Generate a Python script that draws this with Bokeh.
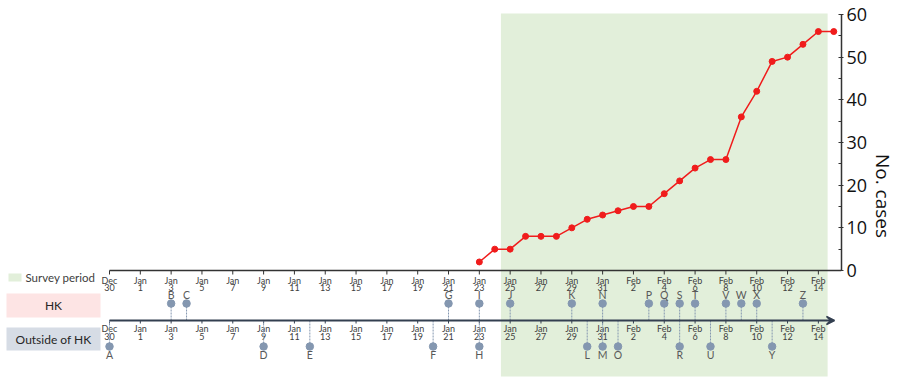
import datetime as dt
from bokeh.plotting import figure
from bokeh.models import Range1d, FixedTicker, Arrow, VeeHead, ColumnDataSource
from bokeh.core.properties import value
from bokeh.embed import file_html
from bokeh.resources import INLINE

# ---------------- data ----------------
case_dates = ["2020-01-23", "2020-01-24", "2020-01-25", "2020-01-26", "2020-01-27", "2020-01-28",
              "2020-01-29", "2020-01-30", "2020-01-31", "2020-02-01", "2020-02-02", "2020-02-03",
              "2020-02-04", "2020-02-05", "2020-02-06", "2020-02-07", "2020-02-08", "2020-02-09",
              "2020-02-10", "2020-02-11", "2020-02-12", "2020-02-13", "2020-02-14", "2020-02-15"]
case_counts = [2, 5, 5, 8, 8, 8, 10, 12, 13, 14, 15, 15, 18, 21, 24, 26, 26, 36, 42, 49, 50, 53, 56, 56]

hk_labels = ["B", "C", "G", "I", "J", "K", "N", "P", "Q", "S", "T", "V", "W", "X", "Z"]
hk_dates = ["2020-01-03", "2020-01-04", "2020-01-21", "2020-01-23", "2020-01-25", "2020-01-29",
            "2020-01-31", "2020-02-03", "2020-02-04", "2020-02-05", "2020-02-06", "2020-02-08",
            "2020-02-09", "2020-02-10", "2020-02-13"]

out_labels = ["A", "D", "E", "F", "H", "L", "M", "O", "R", "U", "Y"]
out_dates = ["2019-12-30", "2020-01-09", "2020-01-12", "2020-01-20", "2020-01-23", "2020-01-30",
             "2020-01-31", "2020-02-01", "2020-02-05", "2020-02-07", "2020-02-11"]

tick_months = ["Dec"] + ["Jan"] * 16 + ["Feb"] * 7
tick_days = ["30", "1", "3", "5", "7", "9", "11", "13", "15", "17", "19", "21", "23", "25", "27",
             "29", "31", "2", "4", "6", "8", "10", "12", "14"]
tick_dates = ["2019-12-30", "2020-01-01", "2020-01-03", "2020-01-05", "2020-01-07", "2020-01-09",
              "2020-01-11", "2020-01-13", "2020-01-15", "2020-01-17", "2020-01-19", "2020-01-21",
              "2020-01-23", "2020-01-25", "2020-01-27", "2020-01-29", "2020-01-31", "2020-02-02",
              "2020-02-04", "2020-02-06", "2020-02-08", "2020-02-10", "2020-02-12", "2020-02-14"]

survey_start = "2020-01-24"
survey_end = "2020-02-14"

y_ticks = [0, 10, 20, 30, 40, 50, 60]
y_minor = [5, 15, 25, 35, 45, 55]

# ---------------- helpers ----------------
BASE = dt.date(2019, 12, 30)


def day(s):
    return (dt.date.fromisoformat(s) - BASE).days


PX_PER_DAY = 15.41
PX_PER_CASE = 4.267
X0_PIX = 109      # screen x of Dec 30
Y0_PIX = 270      # screen y of 0 cases


def px(sx):   # pixel -> day units
    return (sx - X0_PIX) / PX_PER_DAY


def py(sy):   # pixel -> case units
    return (Y0_PIX - sy) / PX_PER_CASE


W, H = 900, 391
FRAME_R = 841
FONT = value("Lato")
AX = "#333333"

p = figure(width=W, height=H, output_backend="svg", toolbar_location=None,
           x_axis_location=None, y_axis_location="right",
           x_range=Range1d(px(0), px(FRAME_R)), y_range=Range1d(py(H), py(0)),
           min_border_left=0, min_border_top=0, min_border_bottom=0, min_border_right=W - FRAME_R)
p.outline_line_color = None
p.grid.visible = False
p.background_fill_color = "white"
p.border_fill_color = "white"

# survey period shading
p.quad(left=[day(survey_start) + 0.4], right=[day(survey_end) + 0.6],
       top=[py(13)], bottom=[py(376)], fill_color="#e2efda", line_color=None)

# left legend / row labels
p.quad(left=[px(8)], right=[px(21)], top=[py(273)], bottom=[py(281)],
       fill_color="#e2efda", line_color=None)
p.text(x=[px(25)], y=[py(277)], text=["Survey period"], text_font=FONT,
       text_font_size="11.5px", text_color="#404040", text_align="left", text_baseline="middle")
p.quad(left=[px(6)], right=[px(100)], top=[py(293)], bottom=[py(317)],
       fill_color="#fde4e4", line_color=None)
p.text(x=[px(53)], y=[py(305)], text=["HK"], text_font=FONT,
       text_font_size="12px", text_color="#262626", text_align="center", text_baseline="middle")
p.quad(left=[px(6)], right=[px(100)], top=[py(327)], bottom=[py(350)],
       fill_color="#d6dce5", line_color=None)
p.text(x=[px(53)], y=[py(339)], text=["Outside of HK"], text_font=FONT,
       text_font_size="12px", text_color="#262626", text_align="center", text_baseline="middle")

# top date axis (drawn along y=0)
tick_x = [day(d) for d in tick_dates]
n = len(tick_x)
p.segment(x0=[0], y0=[0], x1=[px(FRAME_R)], y1=[0], line_color=AX, line_width=1.5)
p.segment(x0=tick_x, y0=[0] * n, x1=tick_x, y1=[py(274)] * n, line_color=AX, line_width=1)
p.text(x=tick_x, y=[py(279.5)] * n, text=tick_months, text_font=FONT,
       text_font_size="9px", text_color="#404040", text_align="center", text_baseline="middle")
p.text(x=tick_x, y=[py(287)] * n, text=tick_days, text_font=FONT,
       text_font_size="9px", text_color="#404040", text_align="center", text_baseline="middle")

# lower timeline
TL = py(320)
p.add_layout(Arrow(x_start=0, y_start=TL, x_end=px(834), y_end=TL,
                   line_color="#333f50", line_width=2,
                   end=VeeHead(size=8, line_color="#333f50", fill_color="#333f50", line_width=1.5)))
p.segment(x0=tick_x, y0=[TL] * n, x1=tick_x, y1=[py(323)] * n, line_color="#333f50", line_width=1)
p.text(x=tick_x, y=[py(328)] * n, text=tick_months, text_font=FONT,
       text_font_size="9px", text_color="#404040", text_align="center", text_baseline="middle")
p.text(x=tick_x, y=[py(335.5)] * n, text=tick_days, text_font=FONT,
       text_font_size="9px", text_color="#404040", text_align="center", text_baseline="middle")

EV = "#8497b0"
# HK events (above timeline)
hx = [day(d) for d in hk_dates]
p.segment(x0=hx, y0=[py(303)] * len(hx), x1=hx, y1=[TL] * len(hx),
          line_color=EV, line_width=1, line_dash="2 1")
p.scatter(x=hx, y=[py(303)] * len(hx), size=7.5, fill_color=EV, line_color=EV)
p.text(x=hx, y=[py(294.5)] * len(hx), text=hk_labels, text_font=FONT,
       text_font_size="10.5px", text_color="#595959", text_align="center", text_baseline="middle")

# Outside of HK events (below timeline)
ox = [day(d) for d in out_dates]
p.segment(x0=ox, y0=[TL] * len(ox), x1=ox, y1=[py(346)] * len(ox),
          line_color=EV, line_width=1, line_dash="2 1")
p.scatter(x=ox, y=[py(346)] * len(ox), size=7.5, fill_color=EV, line_color=EV)
p.text(x=ox, y=[py(354.5)] * len(ox), text=out_labels, text_font=FONT,
       text_font_size="10.5px", text_color="#595959", text_align="center", text_baseline="middle")

# cases line
src = ColumnDataSource(dict(x=[day(d) for d in case_dates], y=case_counts))
p.line("x", "y", source=src, line_color="#f01c1c", line_width=1.5)
p.scatter("x", "y", source=src, size=6, fill_color="#f01c1c", line_color="#f01c1c")

# right axis
ax = p.yaxis[0]
ax.bounds = (0, 60)
ax.ticker = FixedTicker(ticks=y_ticks, minor_ticks=y_minor)
ax.axis_line_color = AX
ax.axis_line_width = 1.5
ax.major_tick_line_color = AX
ax.major_tick_in = 3
ax.major_tick_out = 2
ax.minor_tick_line_color = AX
ax.minor_tick_in = 3
ax.minor_tick_out = 0
ax.major_label_text_font = "Open Sans"
ax.major_label_text_font_size = "18px"
ax.major_label_text_color = "#111111"
ax.major_label_standoff = 3
ax.axis_label = "No. cases"
ax.axis_label_text_font = "Open Sans"
ax.axis_label_text_font_size = "19px"
ax.axis_label_text_font_style = "normal"
ax.axis_label_text_color = "#111111"
ax.axis_label_standoff = 0

open("out.html", "w").write(file_html(p, INLINE))
